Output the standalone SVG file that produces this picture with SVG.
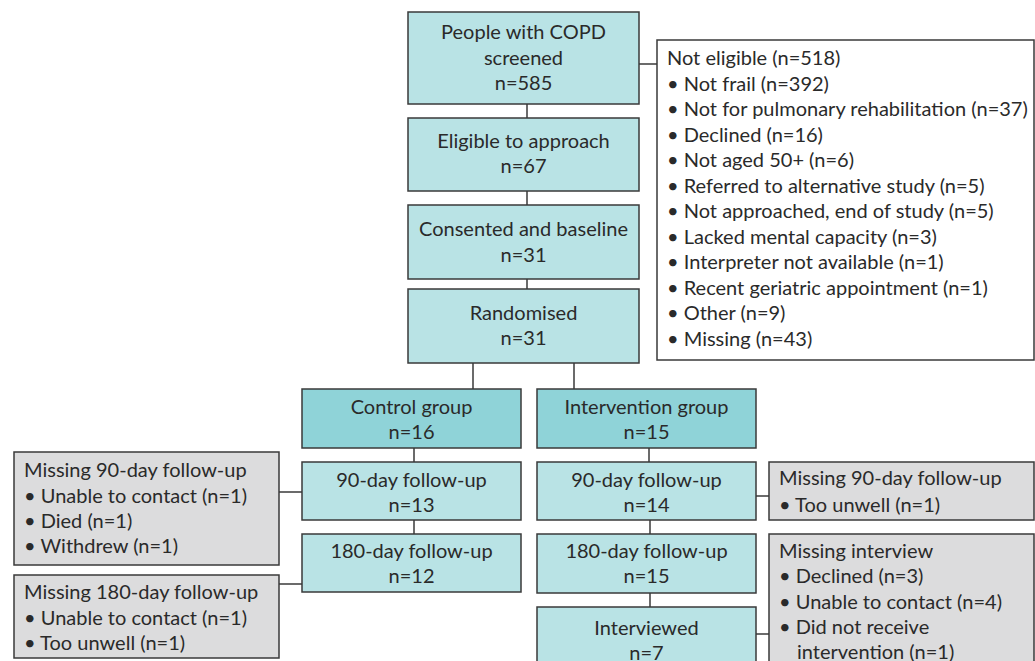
<svg xmlns="http://www.w3.org/2000/svg" width="1035" height="661" viewBox="0 0 1035 661">
<style>
.box{stroke:#3a3a3a;stroke-width:1.5}
.lt{fill:#b9e3e5}
.dk{fill:#8fd3d8}
.gr{fill:#dcdcdd}
.wh{fill:#ffffff}
text{font-family:"Source Sans Pro","Lato","Noto Sans",sans-serif;font-size:20px;fill:#2a2a2a}
.c{text-anchor:middle}
.conn line{stroke:#3a3a3a;stroke-width:1.5}
</style>
<rect width="1035" height="661" fill="#ffffff"/>
<g class="conn">
<line x1="527" y1="104" x2="527" y2="118"/>
<line x1="527" y1="191" x2="527" y2="205"/>
<line x1="527" y1="279" x2="527" y2="289"/>
<line x1="639" y1="64" x2="657" y2="64"/>
<line x1="473" y1="363" x2="473" y2="389"/>
<line x1="574" y1="363" x2="574" y2="389"/>
<line x1="414" y1="448" x2="414" y2="462"/>
<line x1="414" y1="520" x2="414" y2="534"/>
<line x1="649" y1="448" x2="649" y2="462"/>
<line x1="650" y1="520" x2="650" y2="534"/>
<line x1="650" y1="593" x2="650" y2="607"/>
<line x1="279" y1="492" x2="302" y2="492"/>
<line x1="279" y1="584" x2="302" y2="584"/>
<line x1="756" y1="496" x2="769" y2="496"/>
<line x1="756" y1="634" x2="769" y2="634"/>
</g>
<g id="screened">
<rect class="box lt" x="408" y="12" width="231" height="92"/>
<text class="c" x="523.5" y="39">People with COPD</text>
<text class="c" x="523.5" y="65">screened</text>
<text class="c" x="523.5" y="90">n=585</text>
</g>
<g id="eligible">
<rect class="box lt" x="408" y="118" width="231" height="73"/>
<text class="c" x="523.5" y="148">Eligible to approach</text>
<text class="c" x="523.5" y="173">n=67</text>
</g>
<g id="consented">
<rect class="box lt" x="408" y="205" width="231" height="74"/>
<text class="c" x="523.5" y="236">Consented and baseline</text>
<text class="c" x="523.5" y="262">n=31</text>
</g>
<g id="randomised">
<rect class="box lt" x="408" y="289" width="231" height="74"/>
<text class="c" x="523.5" y="320">Randomised</text>
<text class="c" x="523.5" y="345">n=31</text>
</g>
<g id="noteligible">
<rect class="box wh" x="657" y="40" width="377" height="320"/>
<text x="667" y="65">Not eligible (n=518)</text>
<text x="667" y="90.5">• Not frail (n=392)</text>
<text x="667" y="116">• Not for pulmonary rehabilitation (n=37)</text>
<text x="667" y="141.5">• Declined (n=16)</text>
<text x="667" y="167">• Not aged 50+ (n=6)</text>
<text x="667" y="192.5">• Referred to alternative study (n=5)</text>
<text x="667" y="218">• Not approached, end of study (n=5)</text>
<text x="667" y="243.5">• Lacked mental capacity (n=3)</text>
<text x="667" y="269">• Interpreter not available (n=1)</text>
<text x="667" y="294.5">• Recent geriatric appointment (n=1)</text>
<text x="667" y="320">• Other (n=9)</text>
<text x="667" y="345.5">• Missing (n=43)</text>
</g>
<g id="control">
<rect class="box dk" x="302" y="389" width="219" height="59"/>
<text class="c" x="411.5" y="414">Control group</text>
<text class="c" x="411.5" y="439">n=16</text>
</g>
<g id="intervention">
<rect class="box dk" x="537" y="389" width="219" height="59"/>
<text class="c" x="646.5" y="414">Intervention group</text>
<text class="c" x="646.5" y="439">n=15</text>
</g>
<g id="c90">
<rect class="box lt" x="302" y="462" width="219" height="58"/>
<text class="c" x="411.5" y="487">90-day follow-up</text>
<text class="c" x="411.5" y="512">n=13</text>
</g>
<g id="c180">
<rect class="box lt" x="302" y="534" width="219" height="58"/>
<text class="c" x="411.5" y="558">180-day follow-up</text>
<text class="c" x="411.5" y="583">n=12</text>
</g>
<g id="i90">
<rect class="box lt" x="537" y="462" width="219" height="58"/>
<text class="c" x="646.5" y="487">90-day follow-up</text>
<text class="c" x="646.5" y="512">n=14</text>
</g>
<g id="i180">
<rect class="box lt" x="537" y="534" width="219" height="59"/>
<text class="c" x="646.5" y="558">180-day follow-up</text>
<text class="c" x="646.5" y="583">n=15</text>
</g>
<g id="interviewed">
<rect class="box lt" x="537" y="607" width="219" height="70"/>
<text class="c" x="646.5" y="635">Interviewed</text>
<text class="c" x="646.5" y="660">n=7</text>
</g>
<g id="cmiss90">
<rect class="box gr" x="14" y="452" width="265" height="113"/>
<text x="24" y="477">Missing 90-day follow-up</text>
<text x="24" y="503">• Unable to contact (n=1)</text>
<text x="24" y="528">• Died (n=1)</text>
<text x="24" y="553">• Withdrew (n=1)</text>
</g>
<g id="cmiss180">
<rect class="box gr" x="14" y="575" width="265" height="83"/>
<text x="24" y="599">Missing 180-day follow-up</text>
<text x="24" y="625">• Unable to contact (n=1)</text>
<text x="24" y="650">• Too unwell (n=1)</text>
</g>
<g id="imiss90">
<rect class="box gr" x="769" y="462" width="265" height="58"/>
<text x="779" y="485">Missing 90-day follow-up</text>
<text x="779" y="512">• Too unwell (n=1)</text>
</g>
<g id="imissint">
<rect class="box gr" x="769" y="534" width="265" height="140"/>
<text x="779" y="558">Missing interview</text>
<text x="779" y="583">• Declined (n=3)</text>
<text x="779" y="609">• Unable to contact (n=4)</text>
<text x="779" y="634">• Did not receive</text>
<text x="797" y="659">intervention (n=1)</text>
</g>
</svg>
